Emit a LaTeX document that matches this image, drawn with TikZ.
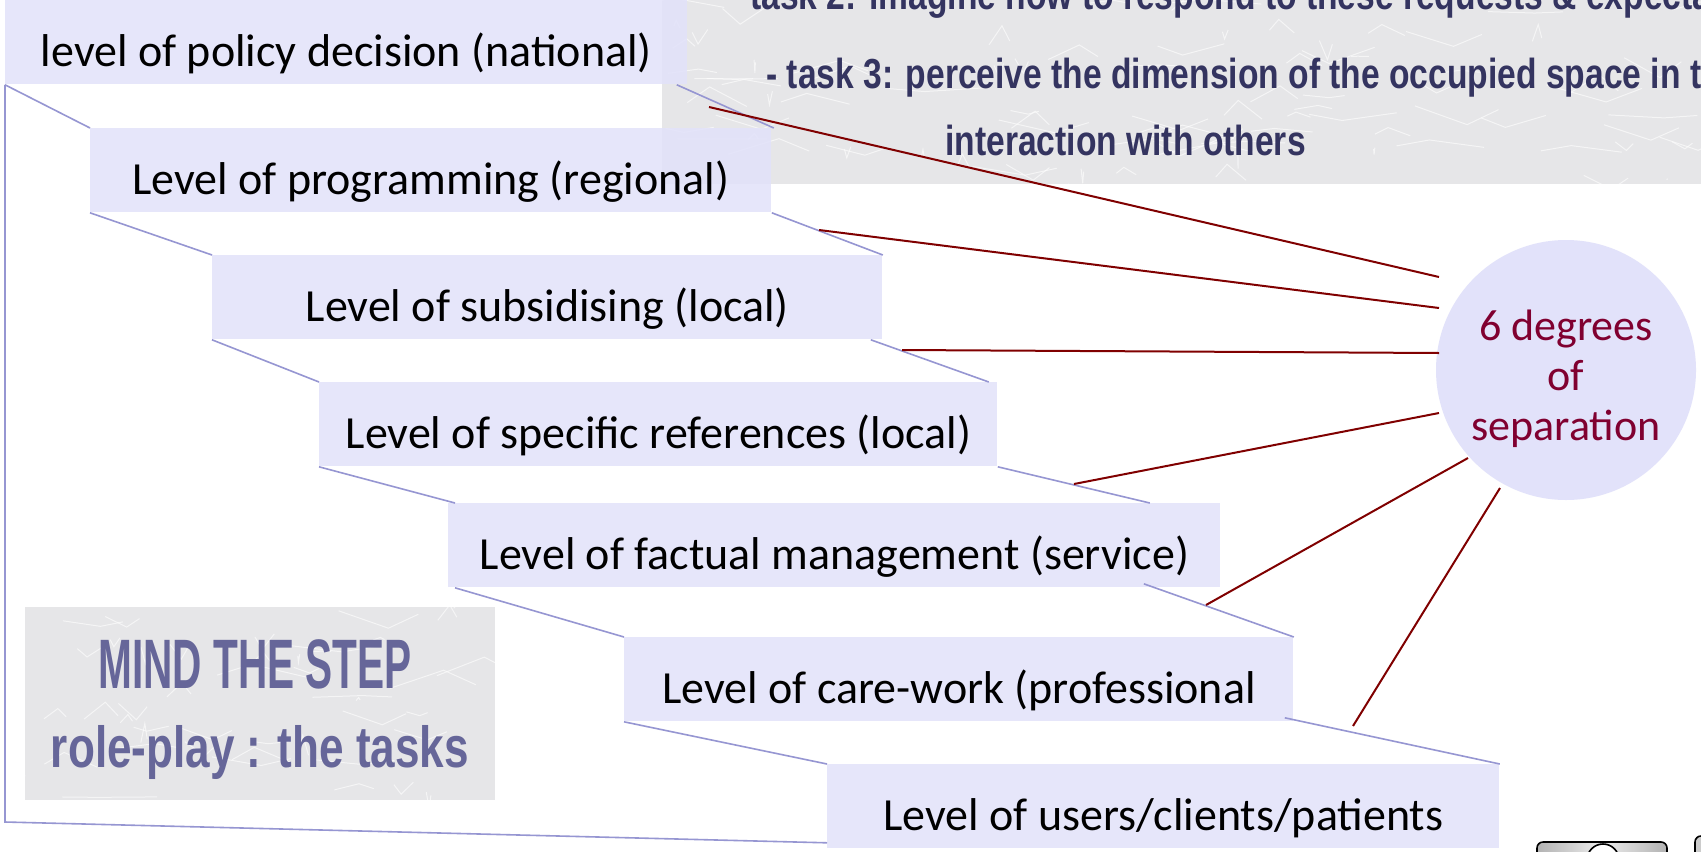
\documentclass[tikz,border=0pt]{standalone}
\usepackage{fontspec}
\setmainfont{Carlito}
\newfontfamily\stencilfont{Liberation Sans}
\usetikzlibrary{calc}
\definecolor{boxfill}{RGB}{226,226,250}
\definecolor{linklav}{RGB}{150,150,210}
\definecolor{redline}{RGB}{128,0,0}
\definecolor{circtext}{RGB}{128,0,48}
\definecolor{paneltex}{RGB}{230,230,232}
\definecolor{navytext}{RGB}{52,52,96}
\definecolor{mindtext}{RGB}{102,102,153}
\begin{document}
\begin{tikzpicture}[x=0.5pt,y=-0.5pt,
  levelbox/.style={fill=boxfill, fill opacity=0.85, text opacity=1, inner sep=0pt,
    anchor=north west, minimum height=42pt, text height=33pt, text depth=9pt,
    font=\fontsize{23}{27}\selectfont},
  link/.style={draw=linklav, line width=0.8pt},
  sepline/.style={draw=redline, line width=1pt},
  paneltext/.style={font=\stencilfont\bfseries\fontsize{21}{24}\selectfont, text=navytext, inner sep=0pt, anchor=base west},
  mindfont/.style={font=\stencilfont\bfseries, text=mindtext, inner sep=0pt, anchor=base}
]
\clip (0,0) rectangle (1701,851);
\fill[white] (0,0) rectangle (1701,851);

% textured panels
\fill[paneltex] (662,0) rectangle (1701,184);
\fill[paneltex] (25,607) rectangle (495,800);
\begin{scope}
  \clip (662,0) rectangle (1701,184);
  \pgfmathsetseed{3}
  \foreach \i in {1,...,90}{
    \pgfmathsetmacro\xa{662+rnd*1039}
    \pgfmathsetmacro\ya{rnd*184}
    \pgfmathsetmacro\dx{rand*60}
    \pgfmathsetmacro\dy{rand*20}
    \draw[white, opacity=0.6, line width=0.5pt] (\xa,\ya) -- ++(\dx,\dy) -- ++(\dx*0.6,-\dy*0.8);
  }
\end{scope}
\begin{scope}
  \clip (25,607) rectangle (495,800);
  \pgfmathsetseed{11}
  \foreach \i in {1,...,45}{
    \pgfmathsetmacro\xa{25+rnd*470}
    \pgfmathsetmacro\ya{607+rnd*193}
    \pgfmathsetmacro\dx{rand*60}
    \pgfmathsetmacro\dy{rand*20}
    \draw[white, opacity=0.6, line width=0.5pt] (\xa,\ya) -- ++(\dx,\dy) -- ++(\dx*0.6,-\dy*0.8);
  }
\end{scope}

% panel texts
\node[paneltext] (t2) at (750,10) {\scalebox{0.8}[1]{task 2: imagine how to respond to these requests \& expectations}};
\node[paneltext] (t3) at (766,88) {\scalebox{0.8}[1]{- task 3: perceive the dimension of the occupied space in the}};
\node[paneltext] (t4) at (945,155) {\scalebox{0.8}[1]{interaction with others}};
\node[mindfont] (mind1) at (255,688) {\scalebox{0.58}[1]{\fontsize{35}{40}\selectfont MIND THE STEP}};
\node[mindfont] (mind2) at (260,767) {\scalebox{0.76}[1]{\fontsize{29}{34}\selectfont role-play : the tasks}};

% level boxes
\node[levelbox, minimum width=341pt] (b1) at (5,0) {level of policy decision (national)};
\node[levelbox, minimum width=340.5pt] (b2) at (90,128) {Level of programming (regional)};
\node[levelbox, minimum width=335pt] (b3) at (212,255) {Level of subsidising (local)};
\node[levelbox, minimum width=339pt] (b4) at (319,382) {Level of specific references (local)};
\node[levelbox, minimum width=386pt] (b5) at (448,503) {Level of factual management (service)};
\node[levelbox, minimum width=334.5pt] (b6) at (624,637) {Level of care-work (professional};
\node[levelbox, minimum width=336pt] (b7) at (827,764) {Level of users/clients/patients};

% stair connectors
\draw[link] (b1.south west) -- (b2.north west);
\draw[link] ($(b1.south east)+(-11,0)$) -- ($(b2.north east)+(2,0)$);
\draw[link] (b2.south west) -- (b3.north west);
\draw[link] (b2.south east) -- (b3.north east);
\draw[link] (b3.south west) -- (b4.north west);
\draw[link] ($(b3.south east)+(-12,0)$) -- ($(b4.north east)+(-9,0)$);
\draw[link] (b4.south west) -- ($(b5.north west)+(7,0)$);
\draw[link] (b4.south east) -- ($(b5.north east)+(-71,0)$);
\draw[link] ($(b5.south west)+(7,0)$) -- (b6.north west);
\draw[link] ($(b5.south east)+(-77,-4)$) -- (b6.north east);
\draw[link] (b6.south west) -- (b7.north west);
\draw[link] ($(b6.south east)+(-9,-4)$) -- (b7.north east);
\coordinate (lc) at (5,822);
\draw[link] (b1.south west) -- (lc) -- ($(b7.south west)+(0,-6)$);

% separation circle
\node[circle, fill=boxfill, minimum size=130pt, inner sep=0pt, text=circtext, align=center,
  font=\fontsize{22}{25}\selectfont] (sep) at (1566,370) {\rule{0pt}{24pt}6 degrees\\of\\separation};

% red connectors
\coordinate (r1s) at (709,107);  \coordinate (r1e) at (1439,277);
\coordinate (r2s) at (819,230);  \coordinate (r2e) at (1439,308);
\coordinate (r3s) at (902,350);  \coordinate (r3e) at (1439,353);
\coordinate (r4s) at (1074,484); \coordinate (r4e) at (1439,413);
\coordinate (r5s) at (1206,605); \coordinate (r5e) at (1468,458);
\coordinate (r6s) at (1353,726); \coordinate (r6e) at (1500,488);
\foreach \k in {1,...,6}{ \draw[sepline] (r\k s) -- (r\k e); }

% license badge (partly cut off)
\draw[line width=0.8pt, rounded corners=3pt, left color=gray!60, right color=gray!60, middle color=gray!15]
  (1537,842) rectangle (1667,880);
\draw[line width=0.8pt, fill=white] (1603,860) circle (8pt);
\draw[line width=0.8pt, rounded corners=3pt, fill=gray!40] (1695,836) rectangle (1760,880);
\end{tikzpicture}
\end{document}
